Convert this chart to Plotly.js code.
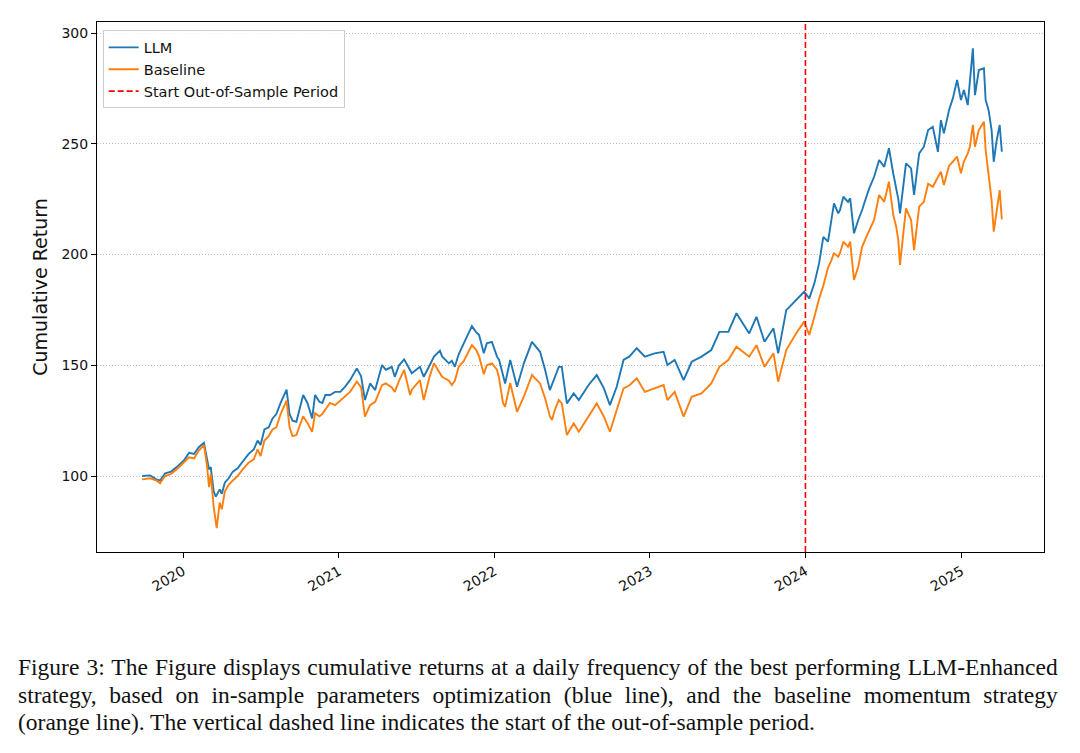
<!DOCTYPE html>
<html>
<head>
<meta charset="utf-8">
<script src="https://cdn.plot.ly/plotly-3.0.1.min.js"></script>
<style>
  html, body { margin: 0; padding: 0; background: #ffffff; }
  #chart { width: 1080px; height: 753px; }
</style>
</head>
<body>
<div id="chart"></div>
<script>
// ---- Data ----
const dates = [
  '2019-09-27','2019-10-16','2019-10-30','2019-11-08','2019-11-20','2019-12-04','2019-12-20',
  '2020-01-03','2020-01-15','2020-01-27','2020-02-07','2020-02-19','2020-02-26','2020-03-02',
  '2020-03-06','2020-03-13','2020-03-18','2020-03-20','2020-03-27','2020-04-01','2020-04-08',
  '2020-04-17','2020-04-27','2020-05-08','2020-05-20','2020-06-03','2020-06-15','2020-06-24',
  '2020-07-01','2020-07-10','2020-07-20','2020-07-29','2020-08-07','2020-08-17','2020-08-31',
  '2020-09-07','2020-09-14','2020-09-23','2020-10-09','2020-10-19','2020-10-30','2020-11-06',
  '2020-11-16','2020-11-23','2020-11-30','2020-12-11','2020-12-23','2021-01-04','2021-01-15',
  '2021-01-27','2021-02-12','2021-02-22','2021-03-03','2021-03-15','2021-03-27','2021-04-12',
  '2021-04-21','2021-05-05','2021-05-12','2021-05-22','2021-06-03','2021-06-17','2021-06-21',
  '2021-07-10','2021-07-19','2021-08-02','2021-08-12','2021-08-26','2021-08-31','2021-09-16',
  '2021-09-23','2021-09-30','2021-10-09','2021-10-21','2021-10-31','2021-11-09','2021-11-19',
  '2021-11-26','2021-12-07','2021-12-14','2021-12-26','2022-01-07','2022-01-12','2022-01-21',
  '2022-01-26','2022-02-07','2022-02-23','2022-03-11','2022-03-30','2022-04-18','2022-04-30',
  '2022-05-11','2022-05-16','2022-05-23','2022-06-01','2022-06-08','2022-06-20','2022-07-06',
  '2022-07-18','2022-08-10','2022-08-29','2022-09-15','2022-09-29','2022-10-15','2022-10-31',
  '2022-11-14','2022-12-01','2022-12-20','2023-01-12','2023-02-02','2023-02-11','2023-02-28',
  '2023-03-21','2023-04-09','2023-05-02','2023-05-25','2023-06-13','2023-07-04','2023-07-23',
  '2023-08-11','2023-08-22','2023-09-08','2023-09-27','2023-10-18','2023-10-29','2023-11-17',
  '2023-12-10','2023-12-29','2024-01-10','2024-01-22','2024-02-02','2024-02-12','2024-02-23',
  '2024-03-01','2024-03-08','2024-03-18','2024-03-22','2024-03-30','2024-04-10','2024-04-15',
  '2024-04-24','2024-05-04','2024-05-13','2024-05-23','2024-05-30','2024-06-10','2024-06-22',
  '2024-07-04','2024-07-15','2024-07-25','2024-08-01','2024-08-06','2024-08-10','2024-08-24',
  '2024-09-05','2024-09-12','2024-09-24','2024-10-05','2024-10-15','2024-10-26','2024-11-07',
  '2024-11-14','2024-11-21','2024-12-03','2024-12-12','2024-12-22','2024-12-31','2025-01-07',
  '2025-01-16','2025-01-21','2025-01-28','2025-02-02','2025-02-11','2025-02-23','2025-02-27',
  '2025-03-06','2025-03-13','2025-03-18','2025-03-25','2025-04-01','2025-04-06'
];

const llm = [
  100, 100.3, 98.5, 98, 101.2, 102, 104.5,
  107, 110.5, 110, 113, 115, 108, 103,
  104, 93, 90.7, 91.5, 94, 92, 97,
  99, 102, 103.5, 106.5, 110, 112, 116,
  114, 121, 122, 126, 128, 133, 139,
  128, 125, 124.5, 136.6, 133, 126, 136.6,
  133.5, 133, 136.6, 136.6, 138, 138, 140.3,
  143.3, 148.6, 145, 134.3, 141.8, 138.8, 150.1,
  148, 149.3, 144.8, 150, 152.7, 148, 146.4,
  149.3, 144.8, 150, 153.9, 156.6, 154, 150.9,
  152, 149.3, 155, 159.9, 164, 167.7, 165,
  163.7, 155.4, 159.9, 160.6, 153.9, 152.4, 145,
  141.8, 152.4, 140.3, 150.9, 160.6, 156.1, 147.9,
  138.8, 141, 144.8, 149.3, 149.3, 132.8, 137.3,
  134.3, 141.1, 145.6, 139.6, 132, 140.3, 152.4,
  154, 157.7, 153.9, 155.4, 156.1, 150.1, 152.4,
  143.3, 151.6, 153.9, 156.9, 165.1, 165.1, 173.5,
  167.4, 164.4, 171.9, 160.6, 166.7, 155.4, 174.9,
  179.5, 183.2, 180.2, 187, 196, 208, 205.8,
  214.1, 223.1, 218.6, 220, 226.1, 223.8, 225.4,
  209.6, 215.6, 220.1, 226.1, 230, 235, 242.7,
  239.6, 248, 236.7, 230.6, 225, 218.6, 241.2,
  238.9, 226.9, 245.7, 248.7, 256.2, 257.7, 246.4,
  260.7, 254.7, 265.2, 270.5, 278.8, 269.8, 274.3,
  267.5, 278.8, 293.1, 272, 283.3, 284.1, 269.8,
  265.2, 256.2, 241.9, 251.7, 258.5, 246.4
];

const baseline = [
  98.5, 99, 98, 96.8, 100, 101, 103.5,
  106, 108.5, 108, 111.5, 114, 105, 95,
  101, 86, 78, 76.5, 88, 85, 93,
  96, 98, 100, 103, 106, 107.5, 112,
  109, 116, 118, 121, 122, 128, 134,
  122, 118, 118.5, 127, 124, 120, 128.4,
  127, 128, 130, 133, 132, 134, 135.8,
  138, 142.6, 140, 126.8, 132, 133.5, 141,
  141.8, 140, 138, 143, 147.9, 136.6, 139,
  143.3, 134.3, 145, 150.9, 146, 144.8, 143,
  141.1, 143, 149.3, 152, 156, 159.1, 157,
  154, 146, 150, 150.9, 148, 144, 133,
  131.3, 142, 129, 135.8, 145.6, 141.8, 135,
  127, 125.3, 130, 134.3, 132.8, 118.5, 123.8,
  120, 126.8, 132.8, 126.8, 120, 129.8, 139.6,
  141, 144.1, 138, 139.6, 141.1, 134.3, 138,
  126.8, 135.8, 137.3, 141.8, 149.3, 152.4, 158.4,
  155.4, 153.9, 159.1, 149.3, 155.4, 142.6, 156.9,
  164.4, 169.7, 163.7, 171.9, 180, 186, 194,
  197, 200.6, 199, 200.6, 205.8, 203.5, 205.8,
  188.5, 194.5, 203.5, 208, 211.1, 215.6, 226.9,
  223.8, 232.9, 218, 212.6, 206.5, 195.3, 220.9,
  215.6, 202, 221.6, 223.8, 232, 230.6, 235,
  237.4, 231.4, 240, 242, 244.2, 236.7, 242,
  245.7, 248.7, 258.5, 248.7, 256.2, 260, 247.2,
  236.7, 224.6, 210.3, 219.3, 229.1, 215.9
];

const seriesNames = ['LLM', 'Baseline'];
const oosStart = '2024-01-01';
const oosName = 'Start Out-of-Sample Period';
const yTicks = [100, 150, 200, 250, 300];
const yTitle = 'Cumulative Return';
const captionLines = [
  'Figure 3: The Figure displays cumulative returns at a daily frequency of the best performing LLM-Enhanced',
  'strategy, based on in-sample parameters optimization (blue line), and the baseline momentum strategy',
  '(orange line). The vertical dashed line indicates the start of the out-of-sample period.'
];
const justifiedLines = 2;

// ---- Chart ----
const traces = [
  {x: dates, y: llm, name: seriesNames[0], type: 'scatter', mode: 'lines',
   line: {color: '#1f77b4', width: 1.9}},
  {x: dates, y: baseline, name: seriesNames[1], type: 'scatter', mode: 'lines',
   line: {color: '#ff7f0e', width: 1.9}}
];

const annotations = captionLines.map((t, i) => ({
  text: t, xref: 'paper', yref: 'paper', x: -0.0855, y: -0.217 - i * 0.0519,
  xanchor: 'left', yanchor: 'middle', showarrow: false, align: 'left',
  font: {family: 'Liberation Serif, DejaVu Serif, serif', size: 23.5, color: '#111'}
}));

const tickFont = {family: 'DejaVu Sans, sans-serif', size: 14, color: '#111'};

const layout = {
  width: 1080, height: 753,
  paper_bgcolor: '#ffffff', plot_bgcolor: '#ffffff',
  margin: {l: 97, r: 36, t: 22, b: 201},
  showlegend: true,
  legend: {
    x: 0.006, y: 0.984, xanchor: 'left', yanchor: 'top',
    bgcolor: 'rgba(255,255,255,0.8)', bordercolor: '#cccccc', borderwidth: 1,
    font: {family: 'DejaVu Sans, sans-serif', size: 14.5, color: '#111'},
    tracegroupgap: 0
  },
  xaxis: {
    type: 'date', range: ['2019-06-13', '2025-07-14'],
    tick0: '2020-01-01', dtick: 'M12', tickformat: '%Y', tickangle: -30,
    ticks: 'outside', ticklen: 5, tickwidth: 1, tickcolor: '#000',
    showline: true, linecolor: '#000', linewidth: 1, mirror: true,
    showgrid: false, zeroline: false,
    tickfont: tickFont
  },
  yaxis: {
    range: [65.7, 305], tickvals: yTicks,
    ticks: 'outside', ticklen: 5, tickwidth: 1, tickcolor: '#000',
    showline: true, linecolor: '#000', linewidth: 1, mirror: true,
    showgrid: true, gridcolor: '#aaaaaa', gridwidth: 0.8, griddash: '1px,2px',
    zeroline: false,
    tickfont: tickFont,
    title: {text: yTitle, standoff: 8,
            font: {family: 'DejaVu Sans, sans-serif', size: 19, color: '#111'}}
  },
  shapes: [{
    type: 'line', xref: 'x', yref: 'paper', x0: oosStart, x1: oosStart, y0: 0, y1: 1,
    line: {color: '#ff0000', width: 1.6, dash: '6px,3px'},
    showlegend: true, name: oosName
  }],
  annotations: annotations
};

Plotly.newPlot('chart', traces, layout, {displayModeBar: false, staticPlot: true}).then(() => {
  // justify the first caption lines across the figure width, as in the reference
  const targetWidth = 1040;
  const els = document.querySelectorAll('.annotation-text');
  els.forEach((el, i) => {
    if (i >= justifiedLines) return;
    const spaces = captionLines[i].split(' ').length - 1;
    const b0 = el.getBBox();
    const extra = (targetWidth - b0.width) / spaces;
    if (extra <= 0) return;
    el.setAttribute('word-spacing', extra.toFixed(2));
    const b1 = el.getBBox();
    const prev = el.getAttribute('transform') || '';
    el.setAttribute('transform', prev + ' translate(' + (b0.x - b1.x).toFixed(2) + ',0)');
  });
});
</script>
</body>
</html>
